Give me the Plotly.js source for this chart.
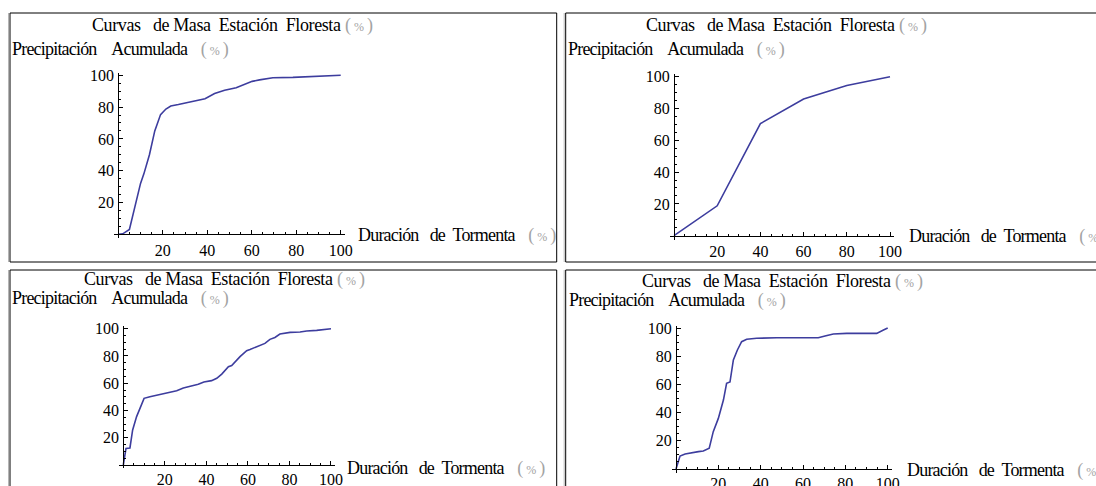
<!DOCTYPE html>
<html>
<head>
<meta charset="utf-8">
<script src="https://cdn.plot.ly/plotly-3.0.1.min.js"></script>
<style>html,body{margin:0;padding:0;background:#fff}</style>
</head>
<body>
<div id="chart" style="width:1096px;height:486px"></div>
<script>
// Mass curves, station Floresta: cumulative rainfall (%) vs storm duration (%)
const durA  = [0, 2, 5, 10, 11.5, 14, 16.4, 19, 21.4, 23.6, 27, 30.6, 35, 39, 43.3, 47.8, 53, 56.8, 60.2, 63.5, 69.5, 78.5, 89, 100];
const precA = [0, 0.3, 3, 32, 38, 50, 65, 75.3, 78.8, 80.7, 81.6, 82.6, 83.9, 85.3, 88.5, 90.6, 92.2, 94.3, 96.2, 97.1, 98.5, 98.7, 99.4, 100];

const durB  = [0, 20, 40, 60, 80, 100];
const precB = [0, 18.8, 70.5, 86, 94.5, 100];

const durC  = [0, 1.3, 3.2, 4.5, 6.4, 10, 12.8, 17.7, 22.5, 25.7, 28.9, 32.9, 36.1, 38.8, 42.5, 45, 47.4, 50.6, 52.2, 56.2, 59.4, 61, 65.8, 68.2, 70.6, 73, 75.4, 80.3, 85.1, 88.3, 93.1, 98, 100];
const precC = [0, 12.2, 12.5, 25.7, 35.5, 48.9, 50.1, 51.6, 53.1, 54.5, 56.5, 57.7, 59.2, 60.9, 61.9, 63.6, 66.7, 72.1, 72.9, 79.5, 83.9, 84.8, 87.5, 89.2, 92.2, 93.6, 96.1, 97.3, 97.6, 98.3, 98.8, 99.8, 100];

const durD  = [0, 1.9, 4.3, 7.4, 10.6, 12.9, 15.7, 17.6, 20, 22.4, 23.9, 25.5, 27.1, 29, 31, 33.4, 38.1, 47.6, 67.2, 70.4, 74.3, 80.6, 94.8, 98, 100];
const precD = [0, 9.2, 10.6, 11.6, 12.3, 12.8, 14.7, 26.5, 35.9, 48.9, 60.8, 61.7, 77.3, 84.4, 90.3, 92, 92.7, 93.1, 93.1, 94.3, 95.7, 96.2, 96.2, 98.6, 100];

const majorTicks = [20, 40, 60, 80, 100];
const minorTicks = [5, 10, 15, 25, 30, 35, 45, 50, 55, 65, 70, 75, 85, 90, 95];

const NB = '\u00A0';
const titleText = 'Curvas' + NB + NB + NB + 'de' + NB + 'Masa' + NB + NB + 'Estación' + NB + NB + 'Floresta';
const yLabelText = 'Precipitación' + NB + NB + NB + NB + 'Acumulada';
const xLabelText = 'Duración' + NB + NB + NB + 'de' + NB + NB + 'Tormenta';
const unitText = '%';

const series = [[durA, precA], [durB, precB], [durC, precC], [durD, precD]];

// page geometry (pixels): where 0 and 100 fall on each panel's axes, frame box, label anchors
const W = 1096, H = 486;
const panels = [
  {x0: 118.3, x100: 340.7, y0: 234.3, y100: 75.3, box: [10, 13, 556.7, 262], title: [91, 25], ylab: [11, 49], xlab: [357, 235], xstand: 1, ystand: 1},
  {x0: 674,   x100: 890,   y0: 235.7, y100: 76.7, box: [565.7, 13, 1100, 262], title: [645, 25], ylab: [567, 49], xlab: [908, 237], xstand: 1, ystand: 1},
  {x0: 123.3, x100: 331,   y0: 465,   y100: 328.7, box: [10, 270, 556.7, 490], title: [83, 279.5], ylab: [11, 298.5], xlab: [346, 468], xstand: 0, ystand: 1},
  {x0: 676,   x100: 887.7, y0: 469,   y100: 328,   box: [565.7, 270, 1100, 490], title: [641, 281.5], ylab: [568, 300], xlab: [906, 470], xstand: 0, ystand: 1}
];
const XR = [-2, 102], YR = [-2.5, 101.7];

const FONT = '"Liberation Serif", "Times New Roman", serif';
const lineColor = '#3d3d9e';

const unitSpan = '<span style="color:#a3a3a3">(<span style="font-size:12px">' + NB + unitText + NB + '</span>)</span>';
const cond = (s, ls) => '<span style="letter-spacing:' + ls + 'px">' + s + '</span>';

const traces = [];
const layout = {
  width: W, height: H, autosize: false,
  margin: {l: 0, r: 0, t: 0, b: 0},
  paper_bgcolor: '#fff', plot_bgcolor: 'rgba(0,0,0,0)',
  showlegend: false,
  font: {family: FONT, color: '#000'},
  shapes: [], annotations: []
};

panels.forEach((p, i) => {
  const sfx = i === 0 ? '' : String(i + 1);
  const sx = (p.x100 - p.x0) / 100, sy = (p.y0 - p.y100) / 100;
  const xl = p.x0 + XR[0] * sx, xr = p.x0 + XR[1] * sx;
  const yb = p.y0 - YR[0] * sy, yt = p.y0 - YR[1] * sy;

  const tickCommon = {
    showline: true, linecolor: '#000', linewidth: 1,
    ticks: 'inside', ticklen: 4, tickwidth: 1, tickcolor: '#000',
    tickmode: 'array', tickvals: majorTicks, ticktext: majorTicks.map(String),
    tickfont: {family: FONT, size: 16, color: '#000'},
    showgrid: false, zeroline: false, fixedrange: true,
    minor: {tickmode: 'array', tickvals: minorTicks, ticks: 'inside', ticklen: 2, tickwidth: 1, tickcolor: '#000', showgrid: false}
  };

  layout['xaxis' + sfx] = Object.assign({}, tickCommon, {
    domain: [xl / W, xr / W], range: XR,
    anchor: 'free', position: 1 - p.y0 / H,
    ticklabelstandoff: p.xstand
  });
  layout['yaxis' + sfx] = Object.assign({}, tickCommon, {
    domain: [1 - yb / H, 1 - yt / H], range: YR,
    anchor: 'free', position: p.x0 / W,
    ticklabelstandoff: p.ystand
  });

  traces.push({
    x: series[i][0], y: series[i][1],
    xaxis: 'x' + sfx, yaxis: 'y' + sfx,
    type: 'scatter', mode: 'lines',
    line: {color: lineColor, width: 1.6},
    hoverinfo: 'skip'
  });

  // thin grey edge beside each frame's left side, then the frame itself
  layout.shapes.push({
    type: 'line', xref: 'paper', yref: 'paper',
    x0: (p.box[0] - 1.5) / W, x1: (p.box[0] - 1.5) / W, y0: 1 - p.box[3] / H, y1: 1 - p.box[1] / H,
    line: {color: '#b5b5b5', width: 1}
  });
  layout.shapes.push({
    type: 'rect', xref: 'paper', yref: 'paper',
    x0: p.box[0] / W, x1: p.box[2] / W, y0: 1 - p.box[3] / H, y1: 1 - p.box[1] / H,
    line: {color: '#000', width: 1}, fillcolor: 'rgba(0,0,0,0)'
  });

  const ann = (pos, txt) => ({
    xref: 'paper', yref: 'paper', x: pos[0] / W, y: 1 - pos[1] / H,
    xanchor: 'left', yanchor: 'middle', showarrow: false, borderpad: 0,
    font: {family: FONT, size: 18, color: '#000'}, text: txt
  });
  layout.annotations.push(ann(p.title, cond(titleText, -0.4) + NB + unitSpan));
  layout.annotations.push(ann(p.ylab, cond(yLabelText, -0.8) + NB + NB + NB + unitSpan));
  layout.annotations.push(ann(p.xlab, cond(xLabelText, -0.8) + NB + NB + NB + unitSpan));
});

Plotly.newPlot('chart', traces, layout, {staticPlot: true, displayModeBar: false});
</script>
</body>
</html>
